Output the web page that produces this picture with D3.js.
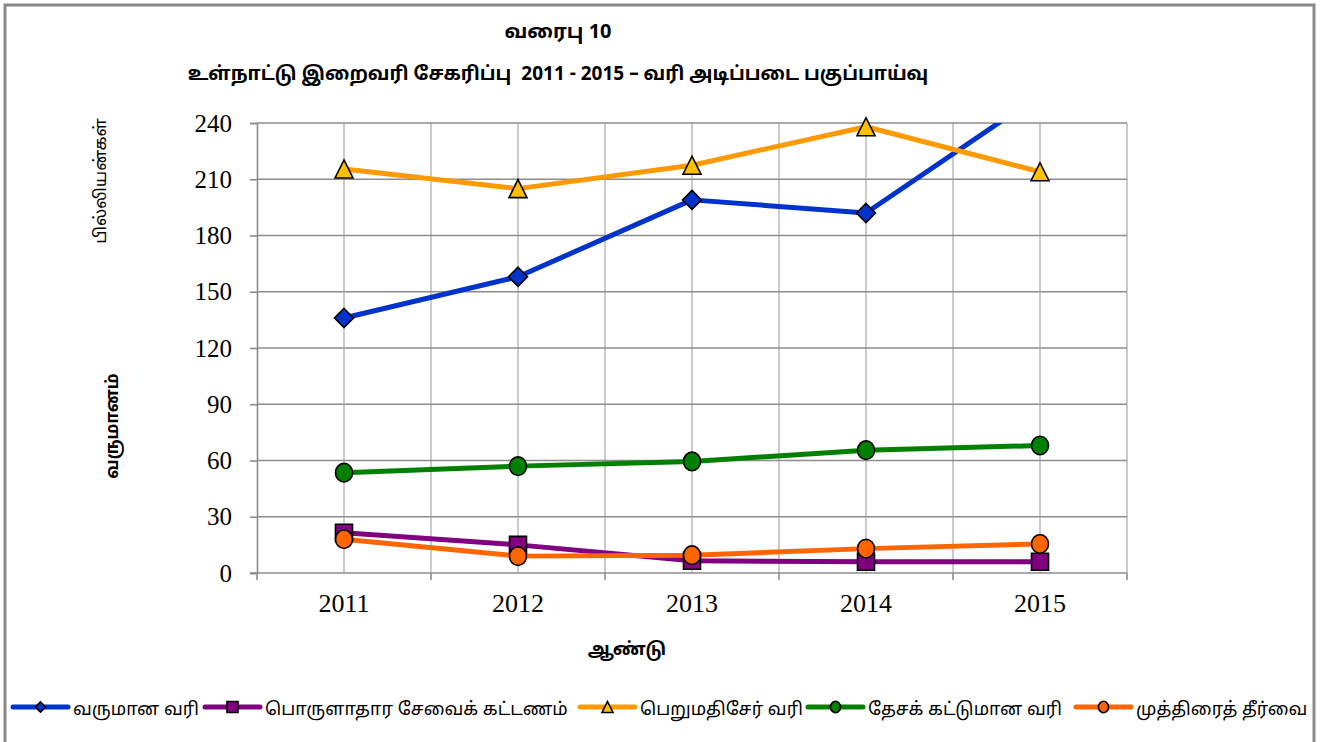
<!DOCTYPE html>
<html>
<head>
<meta charset="utf-8">
<script src="https://cdn.jsdelivr.net/npm/d3@7"></script>
<style>
  html, body { margin: 0; padding: 0; background: #fff; }
  svg { display: block; }
</style>
</head>
<body>
<svg id="chart" width="1326" height="742"></svg>
<script>
// ---- data ----
const years = ["2011", "2012", "2013", "2014", "2015"];
const seriesNames = ["வருமான வரி", "பொருளாதார சேவைக் கட்டணம்", "பெறுமதிசேர் வரி", "தேசக் கட்டுமான வரி", "முத்திரைத் தீர்வை"];
const incomeTax = [136, 158, 199, 192, 255];
const economicServiceCharge = [21.5, 15, 6.5, 6, 6];
const vat = [215.5, 205, 217.5, 238, 214];
const nationBuildingTax = [53.5, 57, 59.5, 65.5, 68];
const stampDuty = [18, 9, 9.5, 13, 15.5];
const yTicks = [0, 30, 60, 90, 120, 150, 180, 210, 240];
const titleText = "வரைபு 10";
const subtitleText = "உள்நாட்டு இறைவரி சேகரிப்பு  2011 - 2015 – வரி அடிப்படை பகுப்பாய்வு";
const yTitle = "வருமானம்";
const yUnit = "பில்லியன்கள்";
const xTitle = "ஆண்டு";

const series = [
  { name: seriesNames[0], values: incomeTax, stroke: "#0033CC", fill: "#0033CC", marker: "diamond" },
  { name: seriesNames[1], values: economicServiceCharge, stroke: "#800080", fill: "#800080", marker: "square" },
  { name: seriesNames[2], values: vat, stroke: "#FF9900", fill: "#FFC000", marker: "triangle" },
  { name: seriesNames[3], values: nationBuildingTax, stroke: "#008000", fill: "#008000", marker: "circle" },
  { name: seriesNames[4], values: stampDuty, stroke: "#FF6600", fill: "#FF6600", marker: "circle" }
];

const svg = d3.select("#chart");
const plot = { left: 257, right: 1127, top: 123, bottom: 573 };

const tamilSans = "'Latha', 'Noto Sans Tamil', 'Lohit Tamil', 'Noto Sans', sans-serif";
const serif = "'Liberation Serif', 'Times New Roman', serif";

// outer frame
svg.append("rect").attr("x", 5).attr("y", 5).attr("width", 1309).attr("height", 760)
  .attr("fill", "#fff").attr("stroke", "#888").attr("stroke-width", 3);

const x = d3.scaleBand().domain(years).range([plot.left, plot.right]);
const y = d3.scaleLinear().domain([0, 240]).range([plot.bottom, plot.top]);
const cx = d => x(d) + x.bandwidth() / 2;

// vertical gridlines (band boundaries and centres)
const vLines = [];
years.forEach(yr => { vLines.push(x(yr)); vLines.push(cx(yr)); });
vLines.push(plot.right);
svg.append("g").selectAll("line").data(vLines.slice(1)).join("line")
  .attr("x1", d => d).attr("x2", d => d)
  .attr("y1", plot.top).attr("y2", plot.bottom)
  .attr("stroke", "#bdbdbd").attr("stroke-width", 1.6);

// horizontal gridlines
svg.append("g").selectAll("line").data(yTicks.slice(1)).join("line")
  .attr("x1", plot.left).attr("x2", plot.right)
  .attr("y1", d => y(d)).attr("y2", d => y(d))
  .attr("stroke", "#8c8c8c").attr("stroke-width", 1.6);

// y axis
const yAxis = svg.append("g").attr("transform", `translate(${plot.left},0)`)
  .call(d3.axisLeft(y).tickValues(yTicks).tickSize(7).tickPadding(18).tickFormat(d3.format("d")));
yAxis.attr("font-family", serif).attr("font-size", 25);
yAxis.select(".domain").attr("stroke", "#8c8c8c").attr("stroke-width", 1.6);
yAxis.selectAll(".tick line").attr("stroke", "#8c8c8c").attr("stroke-width", 1.6);
yAxis.selectAll(".tick text").style("font-family", serif).style("font-size", "25px").attr("fill", "#000");

// x axis
const xAxis = svg.append("g").attr("transform", `translate(0,${plot.bottom})`)
  .call(d3.axisBottom(x).tickSize(0).tickPadding(21));
xAxis.attr("font-family", serif).attr("font-size", 26);
xAxis.select(".domain").remove();
xAxis.selectAll(".tick text").style("font-family", serif).style("font-size", "26px").attr("fill", "#000");
svg.append("line").attr("x1", plot.left - 7).attr("x2", plot.right)
  .attr("y1", plot.bottom).attr("y2", plot.bottom)
  .attr("stroke", "#8c8c8c").attr("stroke-width", 1.6);
const bounds = years.map(yr => x(yr)).concat([plot.right]);
svg.append("g").selectAll("line").data(bounds).join("line")
  .attr("x1", d => d).attr("x2", d => d)
  .attr("y1", plot.bottom).attr("y2", plot.bottom + 7)
  .attr("stroke", "#8c8c8c").attr("stroke-width", 1.6);

// clip for lines
svg.append("clipPath").attr("id", "lineClip").append("rect")
  .attr("x", plot.left).attr("y", plot.top)
  .attr("width", plot.right - plot.left).attr("height", plot.bottom - plot.top);

function markerPath(type, s) {
  const h = s / 2;
  if (type === "diamond") return `M0,${-h}L${h},0L0,${h}L${-h},0Z`;
  if (type === "square") return `M${-h},${-h}H${h}V${h}H${-h}Z`;
  if (type === "triangle") return `M0,${-h}L${h},${h}L${-h},${h}Z`;
  return null;
}
function drawMarker(g, type, s, fill) {
  if (type === "circle") {
    g.append("ellipse").attr("rx", s / 2).attr("ry", s / 2 + 0.8)
      .attr("fill", fill).attr("stroke", "#000").attr("stroke-width", 1.6);
  } else {
    g.append("path").attr("d", markerPath(type, s))
      .attr("fill", fill).attr("stroke", "#000").attr("stroke-width", 1.6);
  }
}

const line = d3.line().x((d, i) => cx(years[i])).y(d => y(d));
const linesG = svg.append("g").attr("clip-path", "url(#lineClip)");
const marksG = svg.append("g");
series.forEach(s => {
  linesG.append("path").datum(s.values).attr("d", line)
    .attr("fill", "none").attr("stroke", s.stroke).attr("stroke-width", 5)
    .attr("stroke-linejoin", "round");
});
const markerSize = { diamond: 19, square: 17, triangle: 18, circle: 17 };
series.forEach(s => {
  s.values.forEach((v, i) => {
    if (v > 240) return;
    const g = marksG.append("g").attr("transform", `translate(${cx(years[i])},${y(v)})`);
    drawMarker(g, s.marker, markerSize[s.marker], s.fill);
  });
});

// titles
svg.append("text").attr("x", 558).attr("y", 38).attr("text-anchor", "middle")
  .attr("font-family", tamilSans).attr("font-weight", "bold").attr("font-size", 20)
  .text(titleText);
svg.append("text").attr("x", 558).attr("y", 80).attr("text-anchor", "middle")
  .attr("font-family", tamilSans).attr("font-weight", "bold").attr("font-size", 19)
  .style("white-space", "pre").text(subtitleText);

svg.append("text").attr("transform", "translate(118,426) rotate(-90)").attr("text-anchor", "middle")
  .attr("font-family", tamilSans).attr("font-weight", "bold").attr("font-size", 17)
  .text(yTitle);
svg.append("text").attr("transform", "translate(106,181) rotate(-90)").attr("text-anchor", "middle")
  .attr("font-family", tamilSans).attr("font-size", 17)
  .text(yUnit);
svg.append("text").attr("x", 627).attr("y", 655).attr("text-anchor", "middle")
  .attr("font-family", tamilSans).attr("font-weight", "bold").attr("font-size", 18)
  .text(xTitle);

// legend
const legendX = [13, 205, 580, 808, 1076];
const legendY = 707;
const legendMarker = { diamond: 10, square: 11, triangle: 11, circle: 10 };
series.forEach((s, i) => {
  const g = svg.append("g").attr("transform", `translate(${legendX[i]},${legendY})`);
  g.append("line").attr("x1", 0).attr("x2", 55).attr("y1", 0).attr("y2", 0)
    .attr("stroke", s.stroke).attr("stroke-width", 5).attr("stroke-linecap", "round");
  const m = g.append("g").attr("transform", "translate(27.5,0)");
  drawMarker(m, s.marker, legendMarker[s.marker], s.fill);
  g.append("text").attr("x", 60).attr("y", 8)
    .attr("font-family", tamilSans).attr("font-size", 18).text(s.name);
});
</script>
</body>
</html>
